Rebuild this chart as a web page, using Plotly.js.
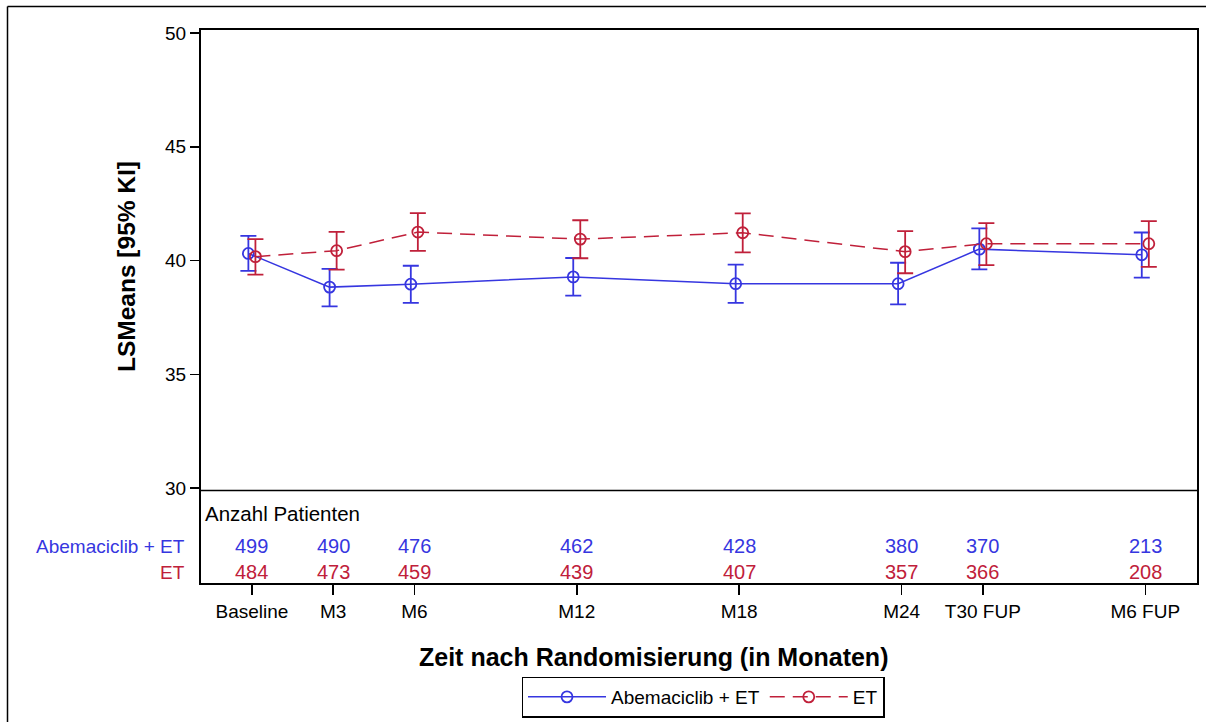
<!DOCTYPE html>
<html>
<head>
<meta charset="utf-8">
<script src="https://cdn.plot.ly/plotly-3.0.1.min.js"></script>
<style>html,body{margin:0;padding:0;background:#fff;}#chart{width:1206px;height:722px;}</style>
</head>
<body>
<div id="chart"></div>
<script>
// ---- data ----
const categories = ['Baseline', 'M3', 'M6', 'M12', 'M18', 'M24', 'T30 FUP', 'M6 FUP'];
const months = [0, 3, 6, 12, 18, 24, 27, 33];

const abemaName = 'Abemaciclib + ET';
const abemaMean  = [40.31, 38.83, 38.96, 39.28, 38.98, 38.98, 40.50, 40.25];
const abemaLower = [39.54, 37.98, 38.14, 38.46, 38.14, 38.07, 39.61, 39.25];
const abemaUpper = [41.08, 39.63, 39.77, 40.11, 39.82, 39.90, 41.41, 41.23];
const abemaN = [499, 490, 476, 462, 428, 380, 370, 213];

const etName = 'ET';
const etMean  = [40.17, 40.43, 41.25, 40.94, 41.22, 40.39, 40.74, 40.74];
const etLower = [39.38, 39.60, 40.42, 40.10, 40.36, 39.44, 39.80, 39.72];
const etUpper = [40.94, 41.26, 42.08, 41.77, 42.07, 41.29, 41.64, 41.73];
const etN = [484, 473, 459, 439, 407, 357, 366, 208];

const yTicks = [30, 35, 40, 45, 50];

// ---- styling ----
const BLUE = '#3636e0';
const RED = '#c0203a';
const FONT = 'Liberation Sans, Arial, sans-serif';
const dodge = 0.13;

// plot area in px (for paper coordinate helpers)
const L = 201, R = 1197, T = 30, B = 583;
const px2paperX = p => (p - L) / (R - L);
const px2paperY = p => (B - p) / (B - T);

const abemaX = months.map(m => m - dodge);
const etX = months.map(m => m + dodge);

const traces = [
  {
    x: abemaX, y: abemaMean, name: abemaName, type: 'scatter', mode: 'lines+markers',
    line: {color: BLUE, width: 1.5},
    marker: {symbol: 'circle-open', size: 11, color: BLUE, line: {width: 1.8, color: BLUE}},
    error_y: {type: 'data', symmetric: false,
      array: abemaUpper.map((u, i) => u - abemaMean[i]),
      arrayminus: abemaMean.map((m, i) => m - abemaLower[i]),
      color: BLUE, thickness: 1.8, width: 8},
    cliponaxis: false
  },
  {
    x: etX, y: etMean, name: etName, type: 'scatter', mode: 'lines+markers',
    line: {color: RED, width: 1.5, dash: '15px,8px'},
    marker: {symbol: 'circle-open', size: 11, color: RED, line: {width: 1.8, color: RED}},
    error_y: {type: 'data', symmetric: false,
      array: etUpper.map((u, i) => u - etMean[i]),
      arrayminus: etMean.map((m, i) => m - etLower[i]),
      color: RED, thickness: 1.8, width: 8},
    cliponaxis: false
  }
];

const annotations = [];
annotations.push({xref: 'paper', yref: 'paper', x: px2paperX(203), y: px2paperY(513),
  xanchor: 'left', yanchor: 'middle', text: 'Anzahl Patienten', showarrow: false,
  font: {family: FONT, size: 20.5, color: '#000'}});
annotations.push({xref: 'paper', yref: 'paper', x: px2paperX(187), y: px2paperY(546),
  xanchor: 'right', yanchor: 'middle', text: abemaName, showarrow: false,
  font: {family: FONT, size: 19, color: BLUE}});
annotations.push({xref: 'paper', yref: 'paper', x: px2paperX(187), y: px2paperY(572),
  xanchor: 'right', yanchor: 'middle', text: etName, showarrow: false,
  font: {family: FONT, size: 19, color: RED}});
months.forEach((m, i) => {
  annotations.push({xref: 'x', yref: 'paper', x: m, y: px2paperY(546),
    xanchor: 'center', yanchor: 'middle', text: String(abemaN[i]), showarrow: false,
    font: {family: FONT, size: 20, color: BLUE}});
  annotations.push({xref: 'x', yref: 'paper', x: m, y: px2paperY(572),
    xanchor: 'center', yanchor: 'middle', text: String(etN[i]), showarrow: false,
    font: {family: FONT, size: 20, color: RED}});
});
annotations.push({xref: 'paper', yref: 'paper', x: px2paperX(653), y: px2paperY(657),
  xanchor: 'center', yanchor: 'middle', text: '<b>Zeit nach Randomisierung (in Monaten)</b>',
  showarrow: false, font: {family: FONT, size: 25, color: '#000'}});
annotations.push({xref: 'paper', yref: 'paper', x: px2paperX(126), y: px2paperY(267),
  xanchor: 'center', yanchor: 'middle', text: '<b>LSMeans [95% KI]</b>', textangle: -90,
  showarrow: false, font: {family: FONT, size: 24.5, color: '#000'}});

const shapes = [
  // separator between chart and patient-count table
  {type: 'line', xref: 'paper', yref: 'paper', x0: 0, x1: 1, y0: px2paperY(490.5), y1: px2paperY(490.5),
    line: {color: '#000', width: 1.5}},
  // outer frame (left and top edges visible)
  {type: 'line', xref: 'paper', yref: 'paper', x0: px2paperX(7.5), x1: px2paperX(7.5), y0: px2paperY(6.5), y1: px2paperY(722),
    line: {color: '#000', width: 1.5}},
  {type: 'line', xref: 'paper', yref: 'paper', x0: px2paperX(7.5), x1: px2paperX(1206), y0: px2paperY(6.5), y1: px2paperY(6.5),
    line: {color: '#000', width: 1.5}}
];

const pxPerUnit = (488 - 33) / 20;
const layout = {
  width: 1206, height: 722,
  margin: {l: L, r: 1206 - R, t: T, b: 722 - B, pad: 0, autoexpand: false},
  paper_bgcolor: '#fff', plot_bgcolor: '#fff',
  font: {family: FONT, size: 19, color: '#000'},
  showlegend: true,
  legend: {
    orientation: 'h', xref: 'paper', yref: 'paper',
    x: px2paperX(703), y: px2paperY(697), xanchor: 'center', yanchor: 'middle',
    bordercolor: '#000', borderwidth: 1.5, bgcolor: '#fff',
    font: {family: FONT, size: 19, color: '#000'},
    itemwidth: 78, tracegroupgap: 0
  },
  xaxis: {
    range: [-1.88, 34.91], tickmode: 'array', tickvals: months, ticktext: categories,
    showgrid: false, zeroline: false, showline: true, mirror: true, linecolor: '#000', linewidth: 2,
    ticks: 'outside', ticklen: 10, tickwidth: 1.5, tickcolor: '#000',
    tickfont: {family: FONT, size: 19, color: '#000'}
  },
  yaxis: {
    range: [30 - (B - 488) / pxPerUnit, 50 + (33 - T) / pxPerUnit],
    tickmode: 'array', tickvals: yTicks, ticktext: yTicks.map(String),
    showgrid: false, zeroline: false, showline: true, mirror: true, linecolor: '#000', linewidth: 2,
    ticks: 'outside', ticklen: 9, tickwidth: 1.5, tickcolor: '#000',
    tickfont: {family: FONT, size: 19, color: '#000'}
  },
  annotations: annotations,
  shapes: shapes
};

Plotly.newPlot('chart', traces, layout, {displayModeBar: false, staticPlot: true});
</script>
</body>
</html>
